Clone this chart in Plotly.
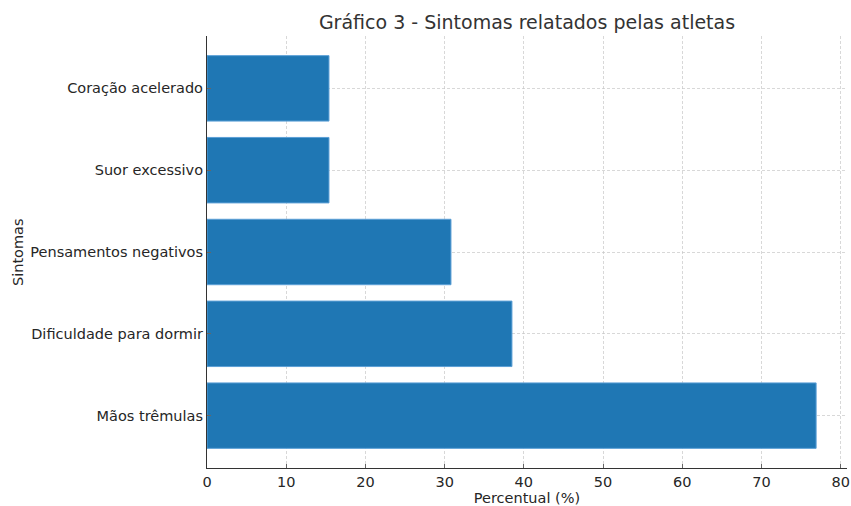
import plotly.graph_objects as go

categorias = ["Mãos trêmulas", "Dificuldade para dormir", "Pensamentos negativos", "Suor excessivo", "Coração acelerado"]
percentuais = [76.9, 38.5, 30.8, 15.4, 15.4]
x_ticks = [0, 10, 20, 30, 40, 50, 60, 70, 80]

font_family = "DejaVu Sans"
grid = "rgba(200,200,200,0.7)"
fig = go.Figure(go.Bar(
    x=percentuais, y=categorias, orientation="h",
    marker=dict(color="#1f77b4", line=dict(color="#5b9fd6", width=1)),
    width=0.8,
))

fig.update_layout(
    width=851, height=506,
    margin=dict(l=207, r=4, t=36, b=38, autoexpand=False),
    plot_bgcolor="white", paper_bgcolor="white",
    font=dict(family=font_family, size=14.5, color="#262626"),
    title=dict(text="Gráfico 3 - Sintomas relatados pelas atletas", x=0.5, xref="paper",
               xanchor="center", y=0.955, yanchor="middle", yref="container",
               font=dict(size=19, color="#333333")),
    showlegend=False,
    annotations=[dict(text="Sintomas", textangle=-90, x=0, y=0.5, xref="paper", yref="paper",
                      xanchor="center", yanchor="middle", xshift=-189, showarrow=False,
                      font=dict(size=14.5))],
)
fig.update_xaxes(
    range=[0, 80.8], tickvals=x_ticks, ticks="inside", ticklen=4, tickcolor="#666",
    showline=True, linecolor="#333", linewidth=1.2, mirror=False, automargin=False,
    showgrid=True, gridcolor=grid, griddash="3px,2px", gridwidth=1,
    layer="above traces", zeroline=False,
    title=dict(text="Percentual (%)", standoff=4, font=dict(size=14.5)),
)
fig.update_yaxes(
    categoryorder="array", categoryarray=categorias, range=[-0.64, 4.64],
    ticks="inside", ticklen=4, tickcolor="#666", automargin=False,
    showline=True, linecolor="#333", linewidth=1.2,
    showgrid=True, gridcolor=grid, griddash="3px,2px", gridwidth=1,
    layer="above traces", zeroline=False,
)

fig.write_html("out.html", config={"displayModeBar": False},
               post_script="document.body.style.margin='0';document.body.style.overflow='hidden';")
